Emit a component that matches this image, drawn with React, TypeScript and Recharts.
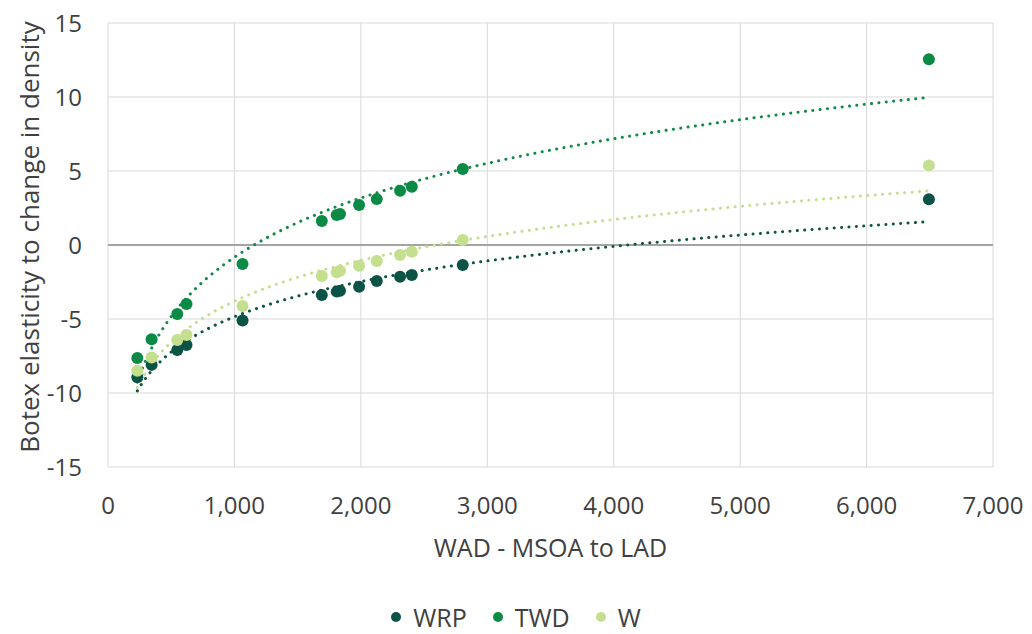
import React from "react";
import {
  ScatterChart,
  Scatter,
  XAxis,
  YAxis,
  CartesianGrid,
  ReferenceLine,
  Legend,
} from "recharts";

// WAD (MSOA to LAD) for each region
const wad = [232, 345, 548, 621, 1064, 1691, 1809, 1835, 1986, 2126, 2310, 2403, 2806, 6493];

// Botex elasticity to change in density, one value per WAD point
const wrp = [-8.94, -8.1, -7.1, -6.76, -5.1, -3.38, -3.15, -3.09, -2.82, -2.43, -2.14, -2.03, -1.35, 3.09];
const twd = [-7.63, -6.37, -4.66, -3.99, -1.28, 1.62, 2.03, 2.1, 2.7, 3.1, 3.67, 3.94, 5.14, 12.55];
const w = [-8.49, -7.6, -6.42, -6.08, -4.12, -2.1, -1.85, -1.74, -1.4, -1.08, -0.68, -0.45, 0.34, 5.38];

const xTicks = [0, 1000, 2000, 3000, 4000, 5000, 6000, 7000];
const yTicks = [-15, -10, -5, 0, 5, 10, 15];

const FONT = '"Open Sans", sans-serif';
const TEXT = "#404040";

const SERIES = [
  { name: "WRP", values: wrp, color: "#0b5345", trend: "#0b5345" },
  { name: "TWD", values: twd, color: "#0a8a45", trend: "#0f8a48" },
  { name: "W", values: w, color: "#c4df8e", trend: "#c4df8e" },
];

// least squares fit of y = a*ln(x) + b, same as a logarithmic trendline
function logFit(xs: number[], ys: number[]) {
  const lx = xs.map((x) => Math.log(x));
  const n = lx.length;
  const mx = lx.reduce((s, v) => s + v, 0) / n;
  const my = ys.reduce((s, v) => s + v, 0) / n;
  let sxy = 0;
  let sxx = 0;
  for (let i = 0; i < n; i++) {
    sxy += (lx[i] - mx) * (ys[i] - my);
    sxx += (lx[i] - mx) ** 2;
  }
  const a = sxy / sxx;
  return { a, b: my - a * mx };
}

function trendPoints(xs: number[], ys: number[]) {
  const { a, b } = logFit(xs, ys);
  const lo = Math.log(Math.min(...xs));
  const hi = Math.log(Math.max(...xs));
  const steps = 80;
  const pts = [];
  for (let i = 0; i <= steps; i++) {
    const x = Math.exp(lo + ((hi - lo) * i) / steps);
    pts.push({ x, y: a * Math.log(x) + b });
  }
  return pts;
}

const toPoints = (values: number[]) => wad.map((x, i) => ({ x, y: values[i] }));

const fmtThousands = (v: number) => v.toLocaleString("en-US");

function LegendBox() {
  return (
    <div
      style={{
        display: "flex",
        justifyContent: "center",
        alignItems: "center",
        fontFamily: FONT,
        fontSize: 25,
        lineHeight: "30px",
        color: TEXT,
      }}
    >
      {SERIES.map((s, i) => (
        <div key={s.name} style={{ display: "flex", alignItems: "center", marginLeft: i === 0 ? 0 : 26 }}>
          <span
            style={{
              width: 10,
              height: 10,
              borderRadius: 5,
              background: s.color,
              marginRight: 12,
              display: "inline-block",
            }}
          />
          <span>{s.name}</span>
        </div>
      ))}
    </div>
  );
}

export default function App() {
  return (
    <div style={{ position: "absolute", left: 0, top: 0, fontFamily: FONT, background: "#fff" }}>
      <ScatterChart width={1032} height={634} margin={{ top: 23, right: 39, bottom: 107, left: 8 }}>
        <CartesianGrid stroke="#d9d9d9" strokeWidth={1} />
        <XAxis
          type="number"
          dataKey="x"
          domain={[0, 7000]}
          ticks={xTicks}
          tickFormatter={fmtThousands}
          axisLine={false}
          tickLine={false}
          tickSize={0}
          tickMargin={30}
          height={60}
          interval={0}
          tick={{ fontSize: 24, fill: TEXT, fontFamily: FONT }}
          label={{
            value: "WAD - MSOA to LAD",
            position: "bottom",
            offset: 12,
            style: { fontSize: 25, fill: TEXT, fontFamily: FONT },
          }}
        />
        <YAxis
          type="number"
          dataKey="y"
          domain={[-15, 15]}
          ticks={yTicks}
          width={100}
          axisLine={false}
          tickLine={false}
          tickSize={0}
          tickMargin={26}
          interval={0}
          tick={{ fontSize: 24, fill: TEXT, fontFamily: FONT }}
          label={{
            content: (props: any) => {
              const vb = props.viewBox;
              const cx = vb.x + 21;
              const cy = vb.y + vb.height / 2 - 8;
              return (
                <text
                  x={cx}
                  y={cy}
                  transform={`rotate(-90 ${cx} ${cy})`}
                  textAnchor="middle"
                  dominantBaseline="central"
                  fontSize={26}
                  fill={TEXT}
                  fontFamily={FONT}
                >
                  Botex elasticity to change in density
                </text>
              );
            },
          }}
        />
        <ReferenceLine y={0} stroke="#8c8c8c" strokeWidth={1.5} />
        {SERIES.map((s) => (
          <Scatter
            key={`${s.name}-trend`}
            name={`${s.name} trend`}
            data={trendPoints(wad, s.values)}
            line={{ stroke: s.trend, strokeWidth: 3, strokeDasharray: "0.1 7.3", strokeLinecap: "round" }}
            lineType="joint"
            shape={() => <g />}
            legendType="none"
            isAnimationActive={false}
          />
        ))}
        {SERIES.map((s) => (
          <Scatter
            key={s.name}
            name={s.name}
            data={toPoints(s.values)}
            fill={s.color}
            shape={(p: any) => <circle cx={p.cx} cy={p.cy} r={6} fill={s.color} />}
            isAnimationActive={false}
          />
        ))}
        <Legend
          layout="horizontal"
          verticalAlign="middle"
          align="center"
          wrapperStyle={{ left: 0, top: 602, width: 1032 }}
          content={() => <LegendBox />}
        />
      </ScatterChart>
    </div>
  );
}
